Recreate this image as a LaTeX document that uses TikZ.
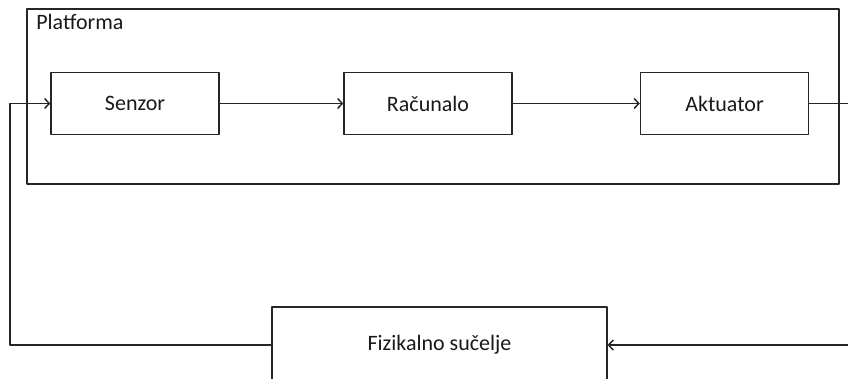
\documentclass[tikz,border=0pt]{standalone}
\usepackage{fontspec}
\setmainfont{Carlito}
\usepackage{tikz}
\usetikzlibrary{arrows.meta,calc}

\begin{document}
\begin{tikzpicture}[x=0.75pt, y=-0.75pt, line join=round,
  box/.style={draw=black!85, line width=1.1pt, minimum width=126pt, minimum height=46.5pt, inner sep=0pt},
  wire/.style={draw=black!85, line width=1.1pt},
  tip/.style={-{Straight Barb[length=3.5pt,width=7.5pt]}},
  txt/.style={text=black!90, font=\fontsize{16.5}{19}\selectfont}]
\useasboundingbox (0,0) rectangle (848,378);
\clip (0,0) rectangle (848,378);
% Platforma frame
\draw[wire] (27,9) rectangle (839,184);
\node[txt, anchor=west, inner sep=0pt] (plat) at (36,22) {Platforma};
% blocks inside the platform
\node[box, txt] (senzor) at (135,103.5) {Senzor};
\node[box, txt] (racunalo) at (428,103.5) {Računalo};
\node[box, txt] (aktuator) at (724.5,103.5) {Aktuator};
% physical interface (cut at the bottom)
\node[box, txt, minimum width=251pt, minimum height=57pt] (fiz) at (439.5,345) {Fizikalno sučelje};
% Free ends
\coordinate (out) at (848,103.5);
\coordinate (in) at (848,345);
\coordinate (fb) at (10,345);
% Signal flow
\draw[wire, tip] (senzor) -- (racunalo);
\draw[wire, tip] (racunalo) -- (aktuator);
\draw[wire] (aktuator) -- (out);
\draw[wire, tip] (in) -- (fiz);
\draw[wire, tip] (fiz.west) -- (fb) |- (senzor.west);
\end{tikzpicture}
\end{document}
